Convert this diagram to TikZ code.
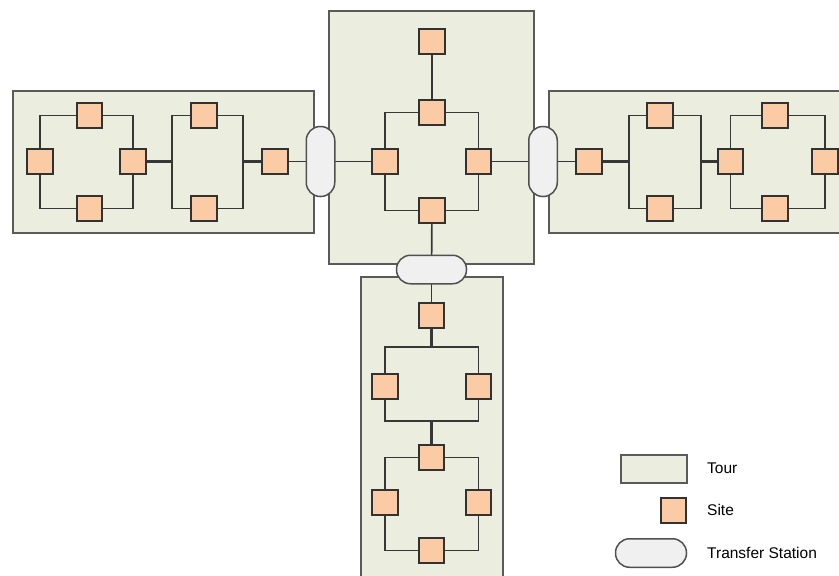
\documentclass[tikz,border=0pt]{standalone}
\usepackage{fontspec}
\setmainfont{Liberation Sans}
\pgfdeclarelayer{bg}
\pgfdeclarelayer{lines}
\pgfsetlayers{bg,lines,main}
\definecolor{tourfill}{RGB}{235,238,222}
\definecolor{tourdraw}{RGB}{90,90,90}
\definecolor{sitefill}{RGB}{250,203,165}
\definecolor{sitedraw}{RGB}{50,50,50}
\definecolor{stfill}{RGB}{240,240,240}
\definecolor{stdraw}{RGB}{80,80,80}
\definecolor{linec}{RGB}{55,55,55}
\tikzset{
  tour/.style={draw=tourdraw, fill=tourfill, line width=2pt, inner sep=0pt},
  site/.style={draw=sitedraw, fill=sitefill, line width=1.7pt, minimum size=25.5pt, inner sep=0pt},
  station/.style={draw=stdraw, fill=stfill, line width=1.5pt, inner sep=0pt},
  vst/.style={station, minimum width=28.5pt, minimum height=70pt, rounded corners=14pt},
  hst/.style={station, minimum width=70pt, minimum height=28.5pt, rounded corners=14pt},
  conn/.style={draw=linec, line width=1.7pt},
  thickconn/.style={draw=linec, line width=2.8pt},
  legtext/.style={anchor=west, font=\fontsize{15.5}{18}\selectfont, inner sep=0pt}
}
\begin{document}
\begin{tikzpicture}[x=1pt,y=-1pt]
\useasboundingbox (0,0) rectangle (839,576);
\clip (0,0) rectangle (839,576);
% tours
\begin{pgfonlayer}{bg}
\node[tour, minimum width=301pt, minimum height=142pt] (TL) at (163.5,162) {};
\node[tour, minimum width=205pt, minimum height=253pt] (TC) at (431.5,137.5) {};
\node[tour, minimum width=300pt, minimum height=142pt] (TR) at (699,162) {};
\node[tour, minimum width=142pt, minimum height=313pt] (TB) at (432,433.5) {};
\end{pgfonlayer}
% stations
\node[vst] (SL) at (320.5,161.5) {};
\node[vst] (SR) at (543,161.5) {};
\node[hst] (SB) at (431.5,269.5) {};
% left tour sites
\node[site] (L1t) at (89.5,115.5) {};
\node[site] (L1l) at (40,161.5) {};
\node[site] (L1r) at (133,161.5) {};
\node[site] (L1b) at (89.5,208.5) {};
\node[site] (L2t) at (204,115.5) {};
\node[site] (L2b) at (204,208.5) {};
\coordinate (L2a) at (172,161.5);
\coordinate (L2c) at (243,161.5);
\node[site] (L3) at (275,161.5) {};
% centre tour sites
\node[site] (C0) at (432,41.5) {};
\node[site] (C1) at (432,112.5) {};
\node[site] (Cl) at (385,161.5) {};
\node[site] (Cr) at (478.5,161.5) {};
\node[site] (Cb) at (432,210.5) {};
% right tour sites
\node[site] (R0) at (589,161.5) {};
\node[site] (R1t) at (660,115.5) {};
\node[site] (R1b) at (660,208.5) {};
\coordinate (R1a) at (629,161.5);
\coordinate (R1c) at (701,161.5);
\node[site] (R2l) at (730.5,161.5) {};
\node[site] (R2t) at (775,115.5) {};
\node[site] (R2b) at (775,208.5) {};
\node[site] (R2r) at (825,161.5) {};
% bottom tour sites
\node[site] (B0) at (431.5,315.5) {};
\coordinate (B1top) at (431.5,347);
\coordinate (B1bot) at (431.5,421);
\node[site] (B1l) at (385,386.5) {};
\node[site] (B1r) at (478.5,386.5) {};
\node[site] (B2t) at (431.5,457.5) {};
\node[site] (B2l) at (385,502.5) {};
\node[site] (B2r) at (478.5,502.5) {};
\node[site] (B2b) at (431.5,550.5) {};
% connectors
\begin{pgfonlayer}{lines}
\path[conn] (L1l.center) |- (L1t.center) -| (L1r.center) |- (L1b.center) -| cycle;
\path[conn] (L2a) |- (L2t.center) -| (L2c) |- (L2b.center) -| cycle;
\path[thickconn] (L1r.center) -- (L2a);
\path[thickconn] (L2c) -- (L3.center);
\path[conn] (L3.center) -- (SL.center);
\path[conn] (SL.center) -- (Cl.center);
\path[conn] (C0.center) -- (C1.center);
\path[conn] (Cl.center) |- (C1.center) -| (Cr.center) |- (Cb.center) -| cycle;
\path[conn] (Cr.center) -- (SR.center);
\path[conn] (Cb.center) -- (SB.center);
\path[conn] (SR.center) -- (R0.center);
\path[thickconn] (R0.center) -- (R1a);
\path[conn] (R1a) |- (R1t.center) -| (R1c) |- (R1b.center) -| cycle;
\path[thickconn] (R1c) -- (R2l.center);
\path[conn] (R2l.center) |- (R2t.center) -| (R2r.center) |- (R2b.center) -| cycle;
\path[conn] (SB.center) -- (B0.center);
\path[thickconn] (B0.center) -- (B1top);
\path[conn] (B1l.center) |- (B1top) -| (B1r.center) |- (B1bot) -| cycle;
\path[thickconn] (B1bot) -- (B2t.center);
\path[conn] (B2l.center) |- (B2t.center) -| (B2r.center) |- (B2b.center) -| cycle;
\end{pgfonlayer}
% legend
\node[tour, minimum width=66pt, minimum height=28pt] (legT) at (653.5,468.5) {};
\node[site] (legS) at (673.5,510.5) {};
\node[hst, minimum width=71pt] (legX) at (651,553) {};
\node[legtext] (legTt) at (707,468) {Tour};
\node[legtext] (legSt) at (707,510) {Site};
\node[legtext] (legXt) at (707,553) {Transfer Station};
\end{tikzpicture}
\end{document}
